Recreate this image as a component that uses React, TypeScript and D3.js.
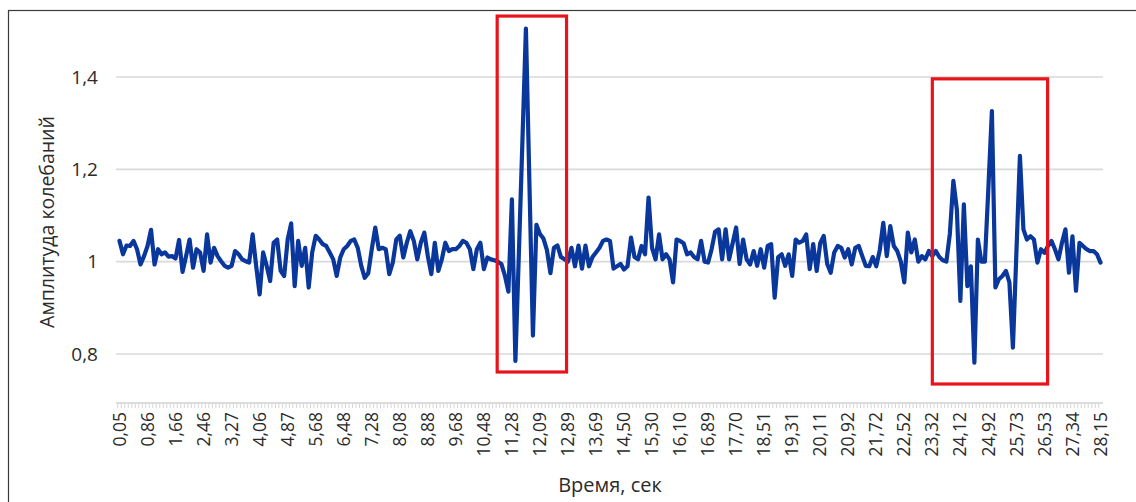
import React from 'react';
import * as d3 from 'd3';

// Амплитуда колебаний, one value per time sample (281 samples, 0,05 … 28,15 s)
const amplitude: number[] = [
  1.045, 1.016, 1.035, 1.034, 1.045, 1.027, 0.994, 1.012, 1.034, 1.069,
  0.994, 1.027, 1.016, 1.020, 1.011, 1.012, 1.007, 1.047, 0.978, 1.012,
  1.048, 0.987, 1.027, 1.020, 0.980, 1.059, 0.998, 1.030, 1.012, 1.001,
  0.991, 0.987, 0.991, 1.023, 1.016,
  1.005, 1.001, 0.998, 1.059, 0.991, 0.929, 1.020, 0.991, 0.958, 1.041,
  1.048, 0.980, 0.969, 1.048, 1.083, 0.947, 1.045, 0.991, 1.030, 0.944,
  1.020, 1.056, 1.048, 1.038, 1.034, 1.020, 1.005, 0.969, 1.009, 1.027,
  1.034, 1.045, 1.048, 1.030, 0.991,
  0.965, 0.975, 1.027, 1.074, 1.027, 1.030, 1.027, 0.973, 0.998, 1.048,
  1.056, 1.009, 1.041, 1.066, 1.045, 1.005, 1.041, 1.063, 1.012, 0.973,
  1.041, 0.980, 1.005, 1.041, 1.023, 1.027, 1.027, 1.034, 1.045, 1.041,
  1.027, 0.984, 1.027, 1.041, 0.984, 1.009, 1.005,
  1.003, 1.0, 0.995, 0.97, 0.935, 1.135, 0.785, 1.02, 1.26, 1.505,
  1.17, 0.84, 1.08, 1.06, 1.05, 1.025, 0.975, 1.03, 1.035, 1.01,
  1.005, 1.0, 1.03, 0.99, 1.035, 0.985, 1.035, 0.99, 1.01, 1.02,
  1.03, 1.045, 1.048, 1.045, 0.985, 0.99, 0.995,
  0.983, 0.99, 1.052, 1.01, 1.005, 1.034, 1.016, 1.139, 1.03, 1.005,
  1.059, 1.005, 1.016, 1.005, 0.955, 1.048, 1.045, 1.04, 1.016, 1.02,
  1.01, 1.005, 1.045, 1.0, 0.998, 1.027, 1.065, 1.07, 1.005, 1.07,
  1.005, 1.04, 1.074, 0.995, 1.048,
  1.005, 0.994, 1.023, 0.991, 1.027, 0.987, 1.034, 1.038, 0.922, 1.01,
  1.016, 0.991, 1.016, 0.969, 1.048, 1.041, 1.045, 1.059, 0.984, 1.038,
  0.98, 1.04, 1.056, 0.995, 0.976, 1.02, 1.034, 1.03, 1.009, 1.027,
  0.994, 1.03, 1.034, 1.012, 0.991,
  0.99, 1.01, 0.99, 1.025, 1.084, 1.012, 1.077, 1.034, 1.023, 1.0,
  0.955, 1.063, 1.02, 1.048, 1.0, 1.012, 1.005, 1.023, 1.012, 1.023,
  1.01, 1.003, 1.0, 1.06, 1.175, 1.113, 0.915, 1.124, 0.947, 0.99,
  0.781, 1.048, 1.0, 1.0, 1.16,
  1.326, 0.944, 0.962, 0.969, 0.98, 0.955, 0.814, 1.02, 1.229, 1.07,
  1.048, 1.055, 1.048, 0.998, 1.027, 1.019, 1.034, 1.045, 1.027, 1.005,
  1.041, 1.07, 0.976, 1.055, 0.937, 1.041, 1.034, 1.027, 1.023, 1.023,
  1.016, 0.998,
];

// Category labels shown on the time axis (every 8th sample)
const xTickLabels: string[] = [
  '0,05', '0,86', '1,66', '2,46', '3,27', '4,06', '4,87', '5,68', '6,48', '7,28',
  '8,08', '8,88', '9,68', '10,48', '11,28', '12,09', '12,89', '13,69', '14,50', '15,30',
  '16,10', '16,89', '17,70', '18,51', '19,31', '20,11', '20,92', '21,72', '22,52', '23,32',
  '24,12', '24,92', '25,73', '26,53', '27,34', '28,15',
];
const LABEL_EVERY = 8;

const yTicks: number[] = [0.8, 1, 1.2, 1.4];
const yTickLabels: string[] = ['0,8', '1', '1,2', '1,4'];

// Highlight boxes (sample index range, amplitude range)
const boxFromIdx: number[] = [107.8, 232];
const boxToIdx: number[] = [127.6, 264.9];
const boxTopVal: number[] = [1.532, 1.396];
const boxBottomVal: number[] = [0.761, 0.735];

const xTitle = 'Время, сек';
const yTitle = 'Амплитуда колебаний';

const FONT = '"Open Sans", "DejaVu Sans", sans-serif';
const TEXT = '#2b2b2b';

export default function App() {
  const W = 1136;
  const H = 502;
  const plotLeft = 116;
  const plotRight = 1103;
  const plotBottom = 403;

  const x = d3.scaleLinear().domain([0, amplitude.length - 1]).range([119.5, 1100.5]);
  const y = d3.scaleLinear().domain([0.8, 1.4]).range([354, 77]);

  const line = d3
    .line<number>()
    .x((_, i) => x(i))
    .y((d) => y(d));

  const path = line(amplitude) || '';

  return (
    <svg
      width={W}
      height={H}
      style={{ position: 'absolute', left: 0, top: 0, background: '#fff' }}
      fontFamily={FONT}
    >
      <rect x={0} y={0} width={W} height={H} fill="#fff" />
      {/* frame */}
      <rect x={8.5} y={10.5} width={1400} height={800} fill="none" stroke="#3a3a3a" strokeWidth={1.2} />

      {/* gridlines */}
      {yTicks.map((t) => (
        <line key={t} x1={plotLeft} x2={plotRight} y1={y(t)} y2={y(t)} stroke="#d9d9d9" strokeWidth={1.6} />
      ))}

      {/* y tick labels */}
      {yTicks.map((t, i) => (
        <text key={t} x={98} y={y(t)} dy="0.35em" textAnchor="end" fontSize={19} fill={TEXT}>
          {yTickLabels[i]}
        </text>
      ))}

      {/* x axis */}
      <line x1={plotLeft} x2={plotRight} y1={plotBottom} y2={plotBottom} stroke="#d0d0d0" strokeWidth={1.5} />
      {amplitude.map((_, i) => (
        <line key={i} x1={x(i) - 1.75} x2={x(i) - 1.75} y1={plotBottom} y2={plotBottom + 5} stroke="#d6d6d6" strokeWidth={1} />
      ))}
      {xTickLabels.map((lab, k) => (
        <text
          key={lab}
          transform={`translate(${x(k * LABEL_EVERY)},${plotBottom + 9}) rotate(-90)`}
          textAnchor="end"
          dy="0.35em"
          fontSize={17.5}
          fill={TEXT}
        >
          {lab}
        </text>
      ))}

      {/* axis titles */}
      <text x={610} y={492} textAnchor="middle" fontSize={20} fill={TEXT}>
        {xTitle}
      </text>
      <text transform={`translate(47,222) rotate(-90)`} textAnchor="middle" dy="0.35em" fontSize={19.5} fill={TEXT}>
        {yTitle}
      </text>

      {/* series */}
      <path d={path} fill="none" stroke="#0a379b" strokeWidth={4.2} strokeLinejoin="round" strokeLinecap="round" />

      {/* highlight boxes */}
      {boxFromIdx.map((b, i) => (
        <rect
          key={i}
          x={x(b)}
          y={y(boxTopVal[i])}
          width={x(boxToIdx[i]) - x(b)}
          height={y(boxBottomVal[i]) - y(boxTopVal[i])}
          fill="none"
          stroke="#e8141b"
          strokeWidth={3.2}
        />
      ))}
    </svg>
  );
}
